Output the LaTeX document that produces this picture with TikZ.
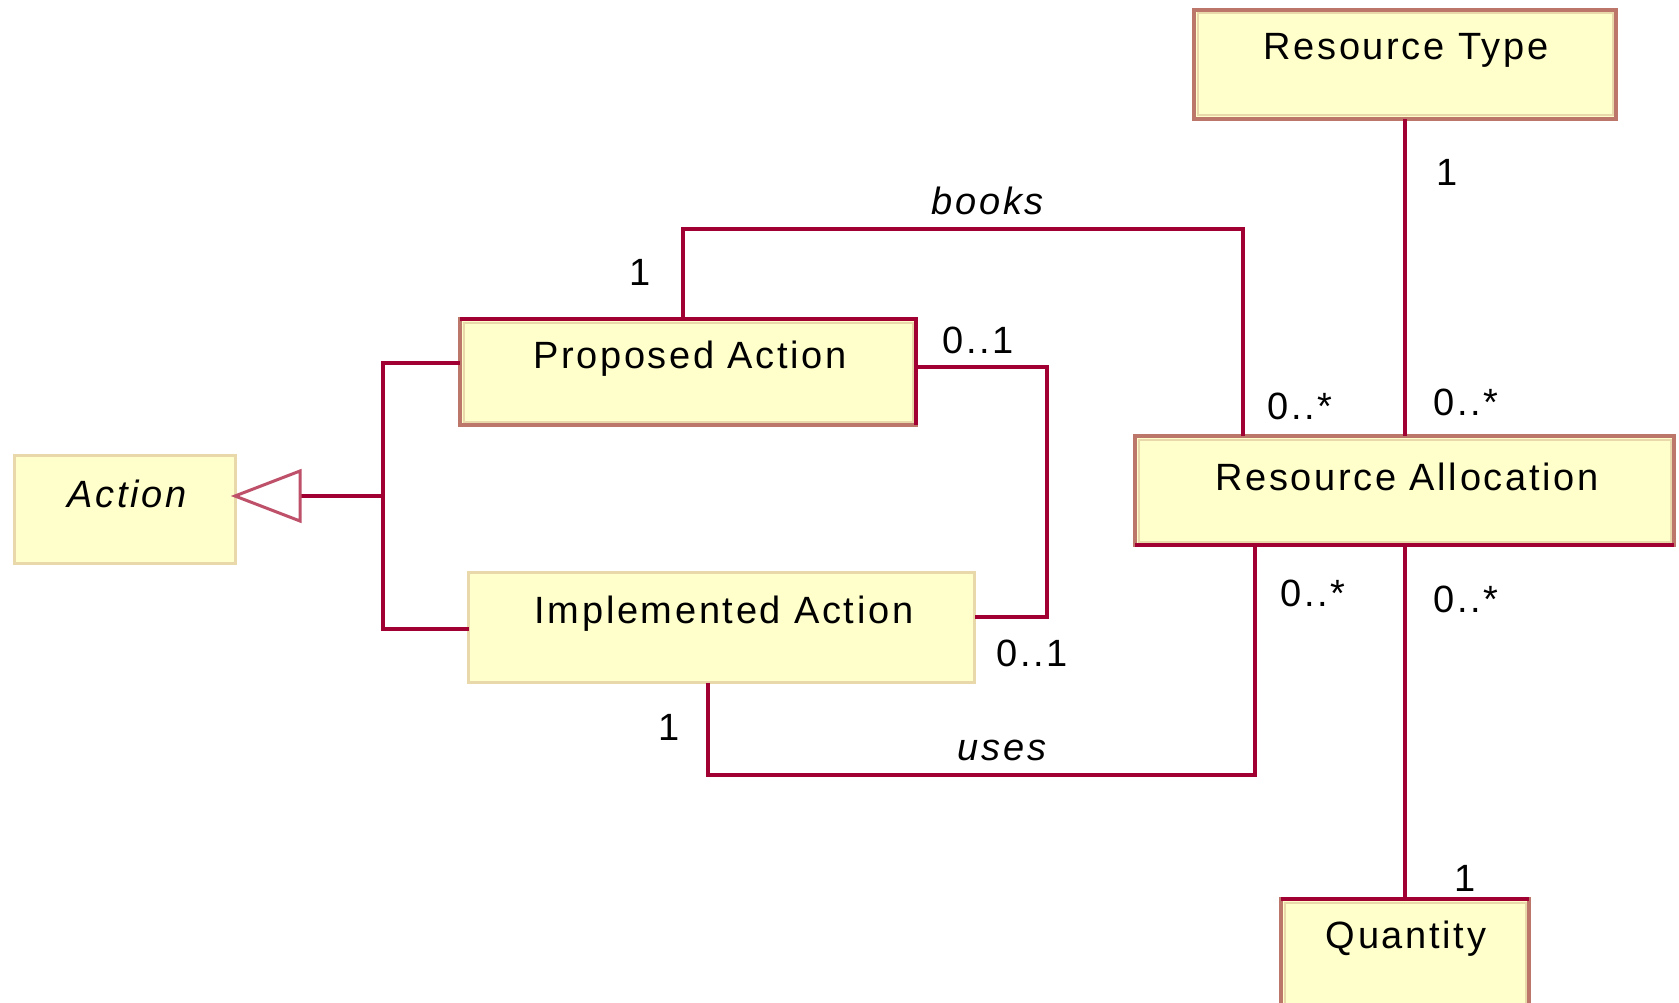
\documentclass[tikz,border=0pt]{standalone}
\usepackage{fontspec}
\setmainfont{Liberation Sans}
\newfontfamily\umlfont[LetterSpace=7]{Liberation Sans}
\definecolor{crim}{RGB}{160,0,50}
\definecolor{brn}{RGB}{188,118,106}
\definecolor{tanb}{RGB}{232,216,170}
\definecolor{boxfill}{RGB}{255,255,204}
\definecolor{tri}{RGB}{190,80,105}
\begin{document}
\begin{tikzpicture}[x=1pt,y=-1pt,
  txt/.style={font=\umlfont\fontsize{38}{44}\selectfont, inner sep=0, anchor=base},
  itxt/.style={txt, font=\umlfont\fontsize{38}{44}\selectfont\itshape},
  clsbox/.style={rectangle, fill=boxfill, inner sep=0, outer sep=0, anchor=north west},
  tanbox/.style={clsbox, draw=tanb, line width=3},
  brnbox/.style={clsbox, draw=brn, line width=4},
  assoc/.style={draw=crim, line width=4},
  inner/.style={draw=tanb, line width=2},
  tristyle/.style={draw=tri, line width=3, fill=white, line join=miter}]
\clip (0,0) rectangle (1679,1003);
\fill[white] (0,0) rectangle (1679,1003);

% classes
\node[tanbox, minimum width=221, minimum height=108] (act) at (14,455) {};
\node[brnbox, minimum width=456, minimum height=106] (pa) at (460,319) {};
\node[tanbox, minimum width=506, minimum height=110] (ia) at (468.5,572.5) {};
\node[brnbox, minimum width=422, minimum height=109] (rt) at (1194,10) {};
\node[brnbox, minimum width=539, minimum height=109] (ra) at (1135,436) {};
\node[brnbox, minimum width=248, minimum height=130] (q) at (1281,899) {};

\foreach \b in {pa,rt,ra,q}{
  \draw[inner] ([shift={(3.5,3.5)}]\b.north west) rectangle ([shift={(-3.5,-3.5)}]\b.south east);
}

% class names
\node[itxt] (actt) at (127,507) {Action};
\node[txt] (pat) at (690,368) {Proposed Action};
\node[txt] (iat) at (724,623) {Implemented Action};
\node[txt] (rtt) at (1406,60) {Resource Type};
\node[txt] (rat) at (1407,490) {Resource Allocation};
\node[txt] (qt) at (1406,948) {Quantity};

% bend points
\coordinate (g1) at (383,363);
\coordinate (g2) at (383,629);
\coordinate (gen) at (383,496);
\coordinate (tip) at (act.east |- gen);
\coordinate (pi1) at (1047,367);
\coordinate (pi2) at (1047,617);
\coordinate (bk1) at (683,229);
\coordinate (bk2) at (1243,229);
\coordinate (us1) at (708,775);
\coordinate (us2) at (1255,775);

% generalization
\draw[assoc] (g1 -| pa.west) -- (g1) -- (g2) -- (g2 -| ia.west);
\draw[assoc] ([xshift=64]tip) -- (gen);
\draw[tristyle] (tip) -- ++(65,-25) -- ++(0,50) -- cycle;

% associations
\draw[assoc] (pi1 -| pa.east) -- (pi1) -- (pi2) -- (pi2 -| ia.east);
\draw[assoc] (bk1 |- pa.north) -- (bk1) -- (bk2) -- (bk2 |- ra.north);
\draw[assoc] (us1 |- ia.south) -- (us1) -- (us2) -- (us2 |- ra.south);
\draw[assoc] (rt.south) -- (rt.south |- ra.north);
\draw[assoc] (q.north |- ra.south) -- (q.north);

% crimson edges
\draw[assoc] (pa.north west) -- (pa.north east) -- (pa.south east);
\draw[assoc] (ra.south west) -- (ra.south east);
\draw[assoc] (q.north west) -- (q.north east);

% multiplicities and role names
\node[txt] (m1) at (1447,186) {1};
\node[txt] (m2) at (1300,419) {0..*};
\node[txt] (m3) at (1466,415) {0..*};
\node[txt] (m4) at (1313,606) {0..*};
\node[txt] (m5) at (1466,612) {0..*};
\node[txt] (m6) at (1465,891) {1};
\node[txt] (m7) at (978,353) {0..1};
\node[txt] (m8) at (1032,666) {0..1};
\node[txt] (m9) at (640,285) {1};
\node[txt] (m10) at (669,740) {1};
\node[itxt] (books) at (988,215) {books};
\node[itxt] (uses) at (1002,760) {uses};
\end{tikzpicture}
\end{document}
